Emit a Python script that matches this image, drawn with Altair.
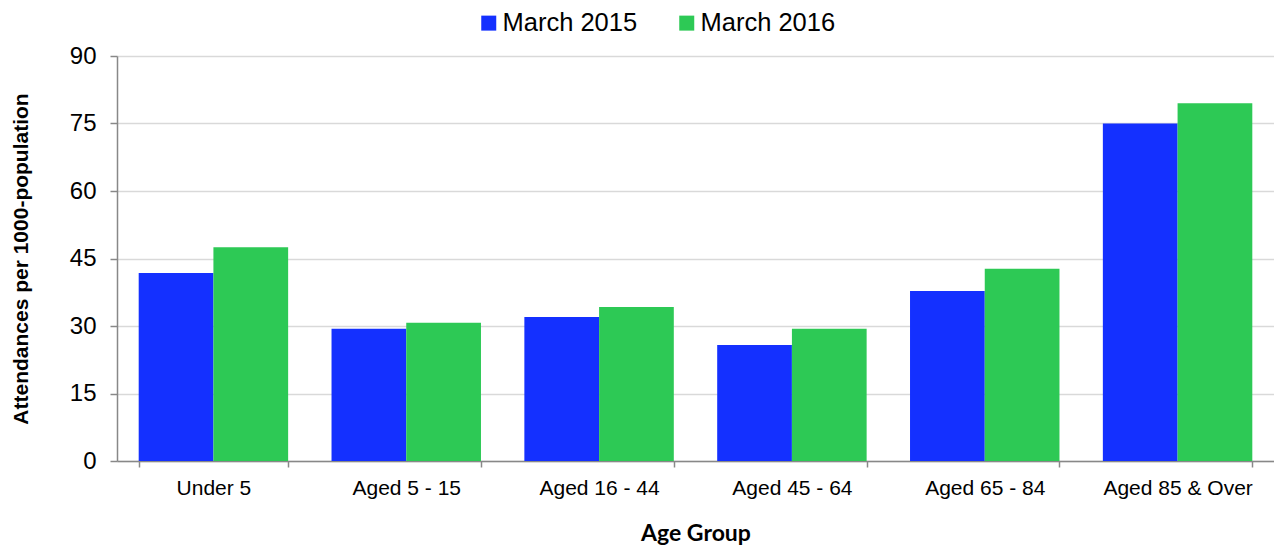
import altair as alt
import pandas as pd

categories = ["Under 5", "Aged 5 - 15", "Aged 16 - 44", "Aged 45 - 64", "Aged 65 - 84", "Aged 85 & Over"]
series = ["March 2015", "March 2016"]
values_2015 = [41.8, 29.4, 32.0, 25.8, 37.8, 75.0]
values_2016 = [47.5, 30.7, 34.2, 29.4, 42.7, 79.5]
colors = ["#1430FF", "#2DC955"]
y_ticks = [0, 15, 30, 45, 60, 75, 90]

rows = []
for c, a, b in zip(categories, values_2015, values_2016):
    rows.append({"group": c, "series": series[0], "value": a})
    rows.append({"group": c, "series": series[1], "value": b})
df = pd.DataFrame(rows)

chart = alt.Chart(df).mark_bar().encode(
    x=alt.X("group:N", sort=categories,
            scale=alt.Scale(paddingInner=0.225, paddingOuter=0.1125),
            axis=alt.Axis(title="Age Group", labelAngle=0, tickBand="extent",
                          labelFont="Liberation Sans", labelFontSize=21, labelColor="#000",
                          labelPadding=10, tickSize=6, tickColor="#888", tickWidth=1.5,
                          domainColor="#888", domainWidth=1.5, grid=False,
                          titleFont="Lato", titleFontSize=23, titleFontWeight="bold",
                          titleColor="#000", titlePadding=24)),
    xOffset=alt.XOffset("series:N", sort=series, scale=alt.Scale(paddingInner=0, paddingOuter=0)),
    y=alt.Y("value:Q", scale=alt.Scale(domain=[0, 90], nice=False),
            axis=alt.Axis(title="Attendances per 1000-population", values=y_ticks,
                          labelFont="Liberation Sans", labelFontSize=24, labelColor="#000",
                          labelPadding=14, tickSize=7, tickColor="#888", tickWidth=1.5,
                          domainColor="#888", domainWidth=1.5,
                          gridColor="#d9d9d9", gridWidth=1.5,
                          titleFont="Liberation Sans", titleFontSize=21, titleFontWeight="bold",
                          titleColor="#000", titlePadding=38)),
    color=alt.Color("series:N", sort=series,
                    scale=alt.Scale(domain=series, range=colors),
                    legend=alt.Legend(title=None, orient="none", direction="horizontal",
                                      legendX=359, legendY=-46, symbolType="square",
                                      symbolSize=225, symbolStrokeWidth=0,
                                      labelFont="Liberation Sans", labelFontSize=25.5,
                                      labelColor="#000", labelOffset=1, columnPadding=36)),
).properties(
    width=1157, height=405,
    autosize=alt.AutoSizeParams(type="none"),
    padding={"left": 109, "top": 48, "right": 0, "bottom": 85},
).configure_view(stroke=None)

chart.save("out.html", embed_options={"renderer": "svg", "actions": False})
